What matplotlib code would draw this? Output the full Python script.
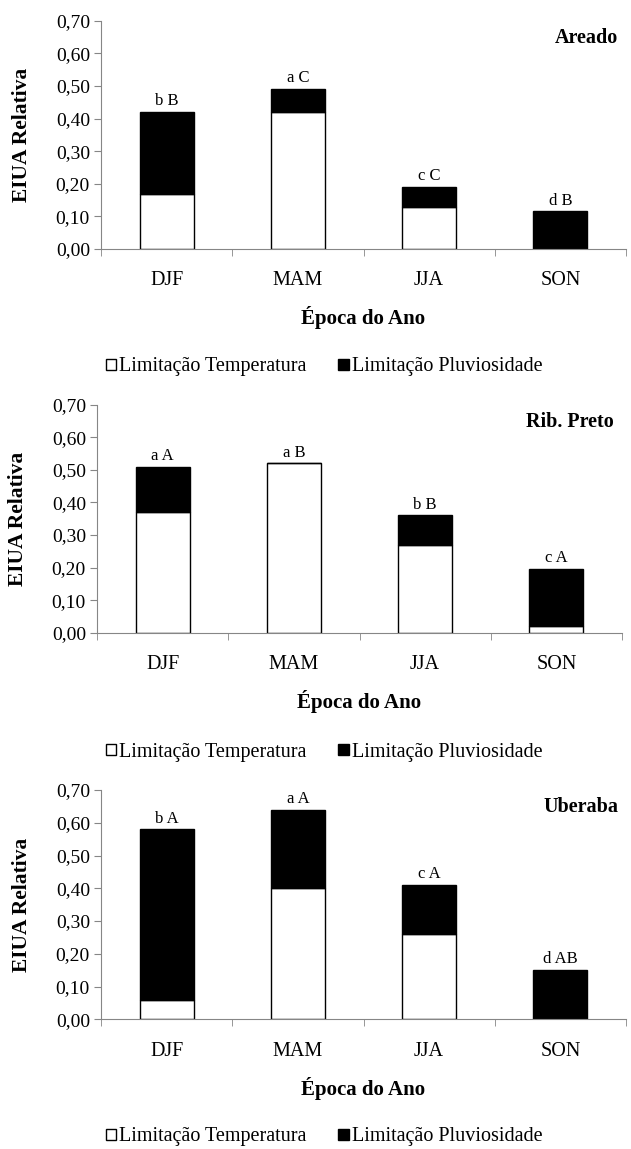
import numpy as np
import matplotlib.pyplot as plt
from matplotlib.patches import Patch
from matplotlib.ticker import FuncFormatter, FixedLocator

plt.rcParams['font.family'] = ['Liberation Serif', 'DejaVu Serif']

# Seasons of the year
seasons = ['DJF', 'MAM', 'JJA', 'SON']

# Areado
areado_temp = [0.17, 0.42, 0.13, 0.0]
areado_pluv = [0.25, 0.07, 0.06, 0.115]
areado_letters = ['b B', 'a C', 'c C', 'd B']

# Ribeirao Preto
ribpreto_temp = [0.37, 0.52, 0.27, 0.02]
ribpreto_pluv = [0.14, 0.0, 0.09, 0.175]
ribpreto_letters = ['a A', 'a B', 'b B', 'c A']

# Uberaba
uberaba_temp = [0.06, 0.40, 0.26, 0.0]
uberaba_pluv = [0.52, 0.24, 0.15, 0.15]
uberaba_letters = ['b A', 'a A', 'c A', 'd AB']

stations = [
    ('Areado', areado_temp, areado_pluv, areado_letters),
    ('Rib. Preto', ribpreto_temp, ribpreto_pluv, ribpreto_letters),
    ('Uberaba', uberaba_temp, uberaba_pluv, uberaba_letters),
]

W, H = 631, 1149
fig = plt.figure(figsize=(W / 100, H / 100), dpi=100)

# axes boxes in pixels: left, right, top(0.70), bottom(0.00)
boxes = [(101, 626, 20.7, 249), (97, 622, 404.7, 632.7), (101, 626, 790, 1019.3)]
legend_y = [367, 752, 1137]

grey = '#868686'
x = np.arange(len(seasons))
width = 0.41

for (name, temp, pluv, letters), (l, r, t, b), ly in zip(stations, boxes, legend_y):
    ax = fig.add_axes([l / W, 1 - b / H, (r - l) / W, (b - t) / H])
    temp = np.array(temp)
    pluv = np.array(pluv)
    ax.bar(x, temp, width, color='white', edgecolor='black', linewidth=1)
    ax.bar(x, pluv, width, bottom=temp, color='black', edgecolor='black', linewidth=1)
    for xi, top, lab in zip(x, temp + pluv, letters):
        ax.annotate(lab, (xi, top), xytext=(0, 2), textcoords='offset points',
                    ha='center', va='bottom', fontsize=12)

    ax.set_xlim(-0.5, 3.5)
    ax.set_ylim(0, 0.70)
    ax.set_yticks(np.arange(0, 0.71, 0.1))
    ax.yaxis.set_major_formatter(FuncFormatter(lambda v, p: f'{v:.2f}'.replace('.', ',')))
    ax.set_xticks(x)
    ax.set_xticklabels(seasons, fontsize=14.5)
    ax.xaxis.set_minor_locator(FixedLocator(np.arange(-0.5, 3.6, 1)))
    ax.tick_params(axis='x', which='major', length=0, pad=16)
    ax.tick_params(axis='x', which='minor', length=5, color=grey, direction='out')
    ax.tick_params(axis='y', length=5, color=grey, direction='out', labelsize=14, pad=3)

    for s in ['top', 'right']:
        ax.spines[s].set_visible(False)
    for s in ['left', 'bottom']:
        ax.spines[s].set_color(grey)

    ax.set_ylabel('EIUA Relativa', fontsize=15.5, fontweight='bold', va='center')
    ax.yaxis.set_label_coords(-0.150, 0.5)
    ax.set_xlabel('Época do Ano', fontsize=15, fontweight='bold', va='center')
    ax.xaxis.set_label_coords(0.5, -0.30)
    ax.text(0.985, 0.925, name, transform=ax.transAxes, ha='right', va='center',
            fontsize=14.5, fontweight='bold')

    handles = [Patch(facecolor='white', edgecolor='black', label='Limitação Temperatura'),
               Patch(facecolor='black', edgecolor='black', label='Limitação Pluviosidade')]
    fig.legend(handles=handles, loc='center', bbox_to_anchor=(324 / W, 1 - ly / H),
               ncol=2, frameon=False, fontsize=14.5, handlelength=0.5, handleheight=0.5,
               handletextpad=0.15, columnspacing=1.6)

fig.savefig('out.png', dpi=100)
